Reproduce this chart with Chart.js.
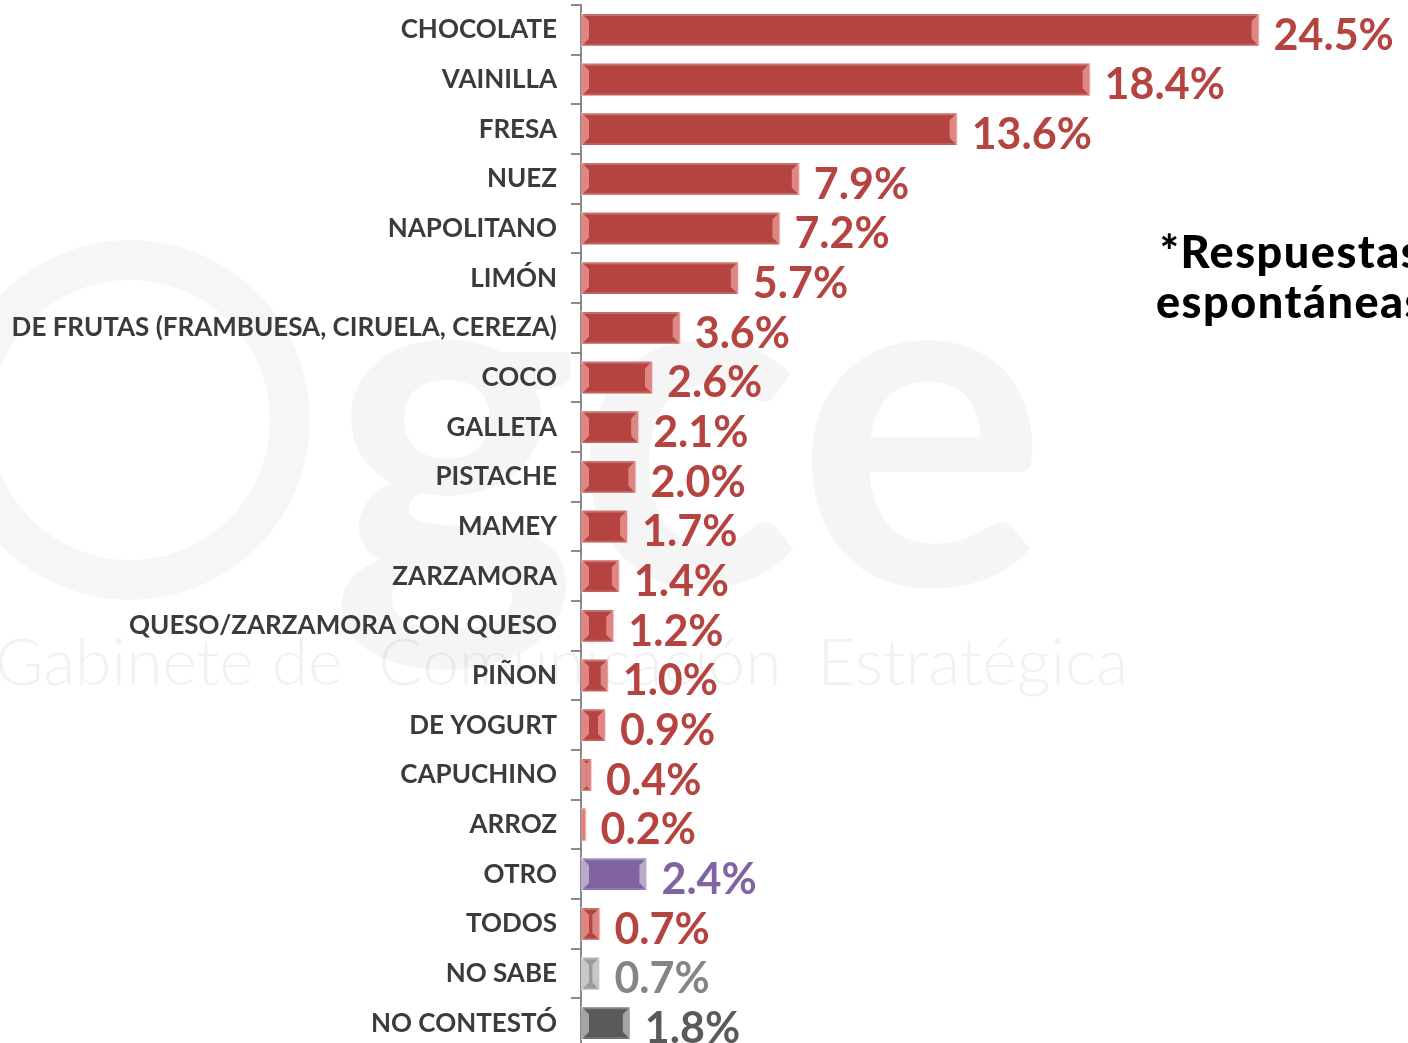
<!DOCTYPE html>
<html>
<head>
<meta charset="utf-8">
<script src="https://cdn.jsdelivr.net/npm/chart.js@4"></script>
<style>
  html, body { margin: 0; padding: 0; background: #fff; overflow: hidden; }
  #wrap { position: relative; width: 1408px; height: 1050px; }
  #note {
    position: absolute; left: 1156px; top: 226px; white-space: nowrap;
    font: 900 45px Lato, sans-serif; letter-spacing: 1.5px; color: #000; text-align: center; line-height: 50px;
  }
</style>
</head>
<body>
<div id="wrap">
  <canvas id="myChart"></canvas>
  <div id="note">*Respuestas<br>espontáneas</div>
</div>
<script>
// Data
const flavours = ['CHOCOLATE', 'VAINILLA', 'FRESA', 'NUEZ', 'NAPOLITANO', 'LIMÓN',
    'DE FRUTAS (FRAMBUESA, CIRUELA, CEREZA)', 'COCO', 'GALLETA', 'PISTACHE', 'MAMEY',
    'ZARZAMORA', 'QUESO/ZARZAMORA CON QUESO', 'PIÑON', 'DE YOGURT', 'CAPUCHINO', 'ARROZ',
    'OTRO', 'TODOS', 'NO SABE', 'NO CONTESTÓ'];
const shares = [24.5, 18.4, 13.6, 7.9, 7.2, 5.7, 3.6, 2.6, 2.1, 2.0, 1.7, 1.4, 1.2, 1.0, 0.9, 0.4, 0.2,
    2.4, 0.7, 0.7, 1.8];

const red = '#B5433F', purple = '#8064A2', grey = '#9A9A9A', darkGrey = '#5A5A5A';
const barColors = flavours.map(f => f === 'OTRO' ? purple : f === 'NO SABE' ? grey : f === 'NO CONTESTÓ' ? darkGrey : red);
const labelColors = flavours.map(f => f === 'OTRO' ? purple : f === 'NO SABE' ? '#858585' : f === 'NO CONTESTÓ' ? darkGrey : red);

// faint watermark behind everything
const watermark = {
    id: 'watermark',
    beforeDraw(chart) {
        const ctx = chart.ctx;
        ctx.save();
        ctx.fillStyle = 'rgba(0,0,0,0.04)';
        ctx.font = 'bold 470px Lato, sans-serif';
        ctx.textBaseline = 'alphabetic';
        ctx.fillText('gce', 330, 585);
        ctx.lineWidth = 40;
        ctx.strokeStyle = 'rgba(0,0,0,0.035)';
        ctx.beginPath();
        ctx.arc(130, 420, 160, 0, Math.PI * 2);
        ctx.stroke();
        ctx.font = '300 66px Lato, sans-serif';
        ctx.fillStyle = 'rgba(0,0,0,0.055)';
        ctx.fillText('Gabinete de  Comunicación  Estratégica', -5, 685);
        ctx.restore();
    }
};

// bevel highlights on bar edges
const bevel = {
    id: 'bevel',
    afterDatasetsDraw(chart) {
        const ctx = chart.ctx;
        chart.getDatasetMeta(0).data.forEach((bar, i) => {
            const { x, y, base, height } = bar.getProps(['x', 'y', 'base', 'height'], true);
            const top = y - height / 2, w = x - base;
            const e = Math.min(8, w / 2);
            ctx.save();
            ctx.fillStyle = 'rgba(255,255,255,0.25)';
            ctx.fillRect(base, top, w, 3);
            ctx.fillStyle = 'rgba(255,255,255,0.15)';
            ctx.fillRect(base, top + height - 3, w, 3);
            ctx.fillStyle = 'rgba(255,190,190,0.55)';
            if (barColors[i] !== red) ctx.fillStyle = 'rgba(255,255,255,0.45)';
            ctx.beginPath();
            ctx.moveTo(base, top); ctx.lineTo(base + e, top + e); ctx.lineTo(base + e, top + height - e);
            ctx.lineTo(base, top + height); ctx.closePath(); ctx.fill();
            ctx.beginPath();
            ctx.moveTo(x, top); ctx.lineTo(x - e, top + e); ctx.lineTo(x - e, top + height - e);
            ctx.lineTo(x, top + height); ctx.closePath(); ctx.fill();
            ctx.restore();
        });
    }
};

// value labels at bar ends
const valueLabels = {
    id: 'valueLabels',
    afterDatasetsDraw(chart) {
        const ctx = chart.ctx;
        ctx.save();
        ctx.font = 'bold 43px Lato, sans-serif';
        ctx.textBaseline = 'middle';
        chart.getDatasetMeta(0).data.forEach((bar, i) => {
            ctx.fillStyle = labelColors[i];
            ctx.fillText(shares[i].toFixed(1) + '%', bar.x + 14, bar.y + 6);
        });
        ctx.restore();
    }
};

const ctx = document.getElementById('myChart').getContext('2d');
new Chart(ctx, {
    type: 'bar',
    data: {
        labels: flavours,
        datasets: [{
            data: shares,
            backgroundColor: barColors,
            borderColor: 'rgba(255,255,255,0.35)',
            borderWidth: 1,
            barPercentage: 0.68,
            categoryPercentage: 1
        }]
    },
    options: {
        indexAxis: 'y',
        responsive: true,
        maintainAspectRatio: false,
        animation: false,
        layout: { padding: { top: 5, right: 0, bottom: 2, left: 0 } },
        plugins: { legend: { display: false }, tooltip: { enabled: false } },
        scales: {
            x: { display: false, min: 0, max: 29.86 },
            y: {
                afterFit(scale) {
                    scale.width = 581;
                    scale.paddingTop = 0;
                    scale.paddingBottom = 0;
                },
                grid: { drawOnChartArea: false, drawTicks: true, tickLength: 10, color: '#8a8a8a', lineWidth: 2 },
                border: { display: true, color: '#8a8a8a', width: 2 },
                ticks: { color: '#3b3b3b', font: { family: 'Lato', weight: 'bold', size: 26 }, padding: 14 }
            }
        }
    },
    plugins: [watermark, bevel, valueLabels]
});
</script>
</body>
</html>
